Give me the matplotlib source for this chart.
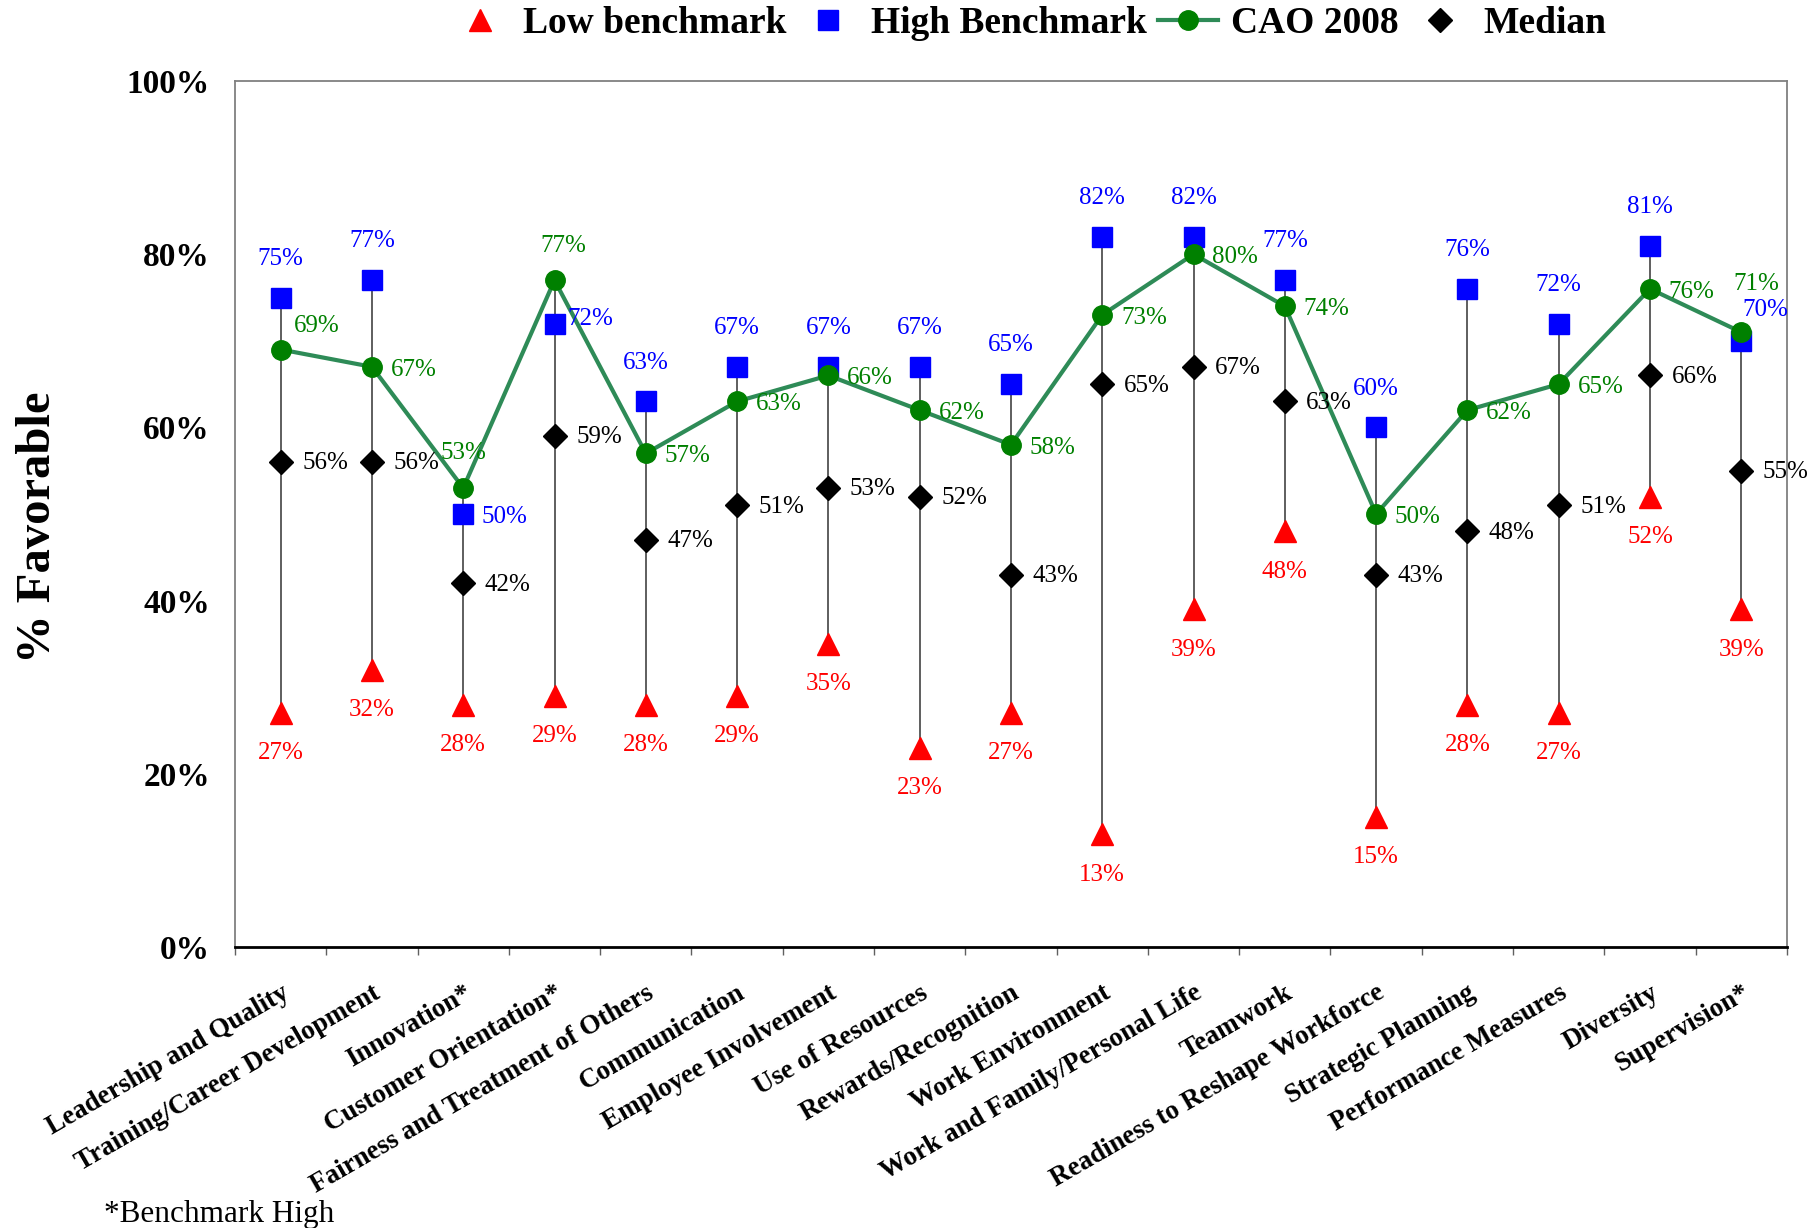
import numpy as np
import matplotlib
matplotlib.use("Agg")
import matplotlib.pyplot as plt
from matplotlib.lines import Line2D

plt.rcParams['font.family'] = ['Liberation Serif', 'DejaVu Serif']

# Survey dimensions and percent favorable scores
categories = [
    "Leadership and Quality", "Training/Career Development", "Innovation*",
    "Customer Orientation*", "Fairness and Treatment of Others", "Communication",
    "Employee Involvement", "Use of Resources", "Rewards/Recognition",
    "Work Environment", "Work and Family/Personal Life", "Teamwork",
    "Readiness to Reshape Workforce", "Strategic Planning", "Performance Measures",
    "Diversity", "Supervision*",
]
low_bench = [27, 32, 28, 29, 28, 29, 35, 23, 27, 13, 39, 48, 15, 28, 27, 52, 39]
high_bench = [75, 77, 50, 72, 63, 67, 67, 67, 65, 82, 82, 77, 60, 76, 72, 81, 70]
cao_2008 = [69, 67, 53, 77, 57, 63, 66, 62, 58, 73, 80, 74, 50, 62, 65, 76, 71]
median = [56, 56, 42, 59, 47, 51, 53, 52, 43, 65, 67, 63, 43, 48, 51, 66, 55]

x = np.arange(len(categories))
low = np.array(low_bench) / 100
high = np.array(high_bench) / 100
cao = np.array(cao_2008) / 100
med = np.array(median) / 100

fig = plt.figure(figsize=(18.16, 12.28), dpi=100)
ax = fig.add_axes([0.1294, 0.2288, 0.8546, 0.7052])

# range line for each dimension
allv = np.vstack([low, high, cao, med])
ax.vlines(x, allv.min(axis=0), allv.max(axis=0), color='#333333', lw=1.1, zorder=1)

ax.plot(x, low, linestyle='none', marker='^', ms=16, color='#ff0000', mec='#ff0000', zorder=3)
ax.plot(x, high, linestyle='none', marker='s', ms=14, color='#0000ff', mec='#0000ff', zorder=3)
ax.plot(x, med, linestyle='none', marker='D', ms=12.5, color='black', zorder=3)
ax.plot(x, cao, color='#2e8b57', lw=3, zorder=4)
ax.plot(x, cao, linestyle='none', marker='o', ms=14, color='#008000', mec='#008000', zorder=5)

lab_fs = 18
# label offsets in points (dx, dy); defaults below with exceptions by index
high_off = {2: (30, -2), 3: (26, 3), 16: (17, 22)}
cao_off = {0: (26, 17), 2: (0, 25), 3: (6, 25), 16: (11, 35)}
for i in x:
    ax.annotate(f"{low_bench[i]}%", (i, low[i]), xytext=(0, -29), textcoords='offset points',
                ha='center', va='center', color='#ff0000', fontsize=lab_fs, zorder=6)
    dx, dy = high_off.get(i, (0, 28))
    ax.annotate(f"{high_bench[i]}%", (i, high[i]), xytext=(dx, dy), textcoords='offset points',
                ha='center', va='center', color='#0000ff', fontsize=lab_fs, zorder=6)
    dx, dy = cao_off.get(i, (30, -2))
    ax.annotate(f"{cao_2008[i]}%", (i, cao[i]), xytext=(dx, dy), textcoords='offset points',
                ha='center', va='center', color='#008000', fontsize=lab_fs, zorder=6)
    ax.annotate(f"{median[i]}%", (i, med[i]), xytext=(32, -1), textcoords='offset points',
                ha='center', va='center', color='black', fontsize=lab_fs, zorder=6)

ax.set_xlim(-0.5, len(categories) - 0.5)
ax.set_ylim(0, 1)
ax.set_yticks(np.arange(0, 1.01, 0.2))
ax.set_yticklabels([f"{int(round(v * 100))}%" for v in np.arange(0, 1.01, 0.2)],
                   fontsize=24, fontweight='bold')
ax.tick_params(axis='y', length=0, pad=18)

ax.set_xticks(x)
ax.set_xticklabels(categories, rotation=30, ha='right', va='top', rotation_mode='anchor',
                   fontsize=19.5, fontweight='bold')
ax.tick_params(axis='x', which='major', length=0, pad=24)
ax.set_xticks(np.arange(-0.5, len(categories), 1), minor=True)
ax.tick_params(axis='x', which='minor', length=6, width=1, color='#606060', direction='out')

for side in ['left', 'top', 'right']:
    ax.spines[side].set_color('#808080')
    ax.spines[side].set_linewidth(1.3)
ax.spines['bottom'].set_color('black')
ax.spines['bottom'].set_linewidth(2)

ax.set_ylabel("% Favorable", fontsize=35, fontweight='bold')
ax.yaxis.set_label_coords(-0.113, 0.485)

handles = [
    Line2D([], [], linestyle='none', marker='^', ms=16, color='#ff0000'),
    Line2D([], [], linestyle='none', marker='s', ms=14, color='#0000ff'),
    Line2D([], [], color='#2e8b57', lw=3, marker='o', ms=14, mfc='#008000', mec='#008000'),
    Line2D([], [], linestyle='none', marker='D', ms=12.5, color='black'),
]
fig.legend(handles, ["Low benchmark", "High Benchmark", "CAO 2008", "Median"],
           loc='center', bbox_to_anchor=(0.566, 0.981), ncol=4, frameon=False,
           prop={'size': 27, 'weight': 'bold'}, handlelength=1.6, handletextpad=0.35,
           columnspacing=0.3)

fig.text(0.057, 0.005, "*Benchmark High", fontsize=22.5, ha='left', va='baseline')

fig.savefig("out.png", dpi=100)
